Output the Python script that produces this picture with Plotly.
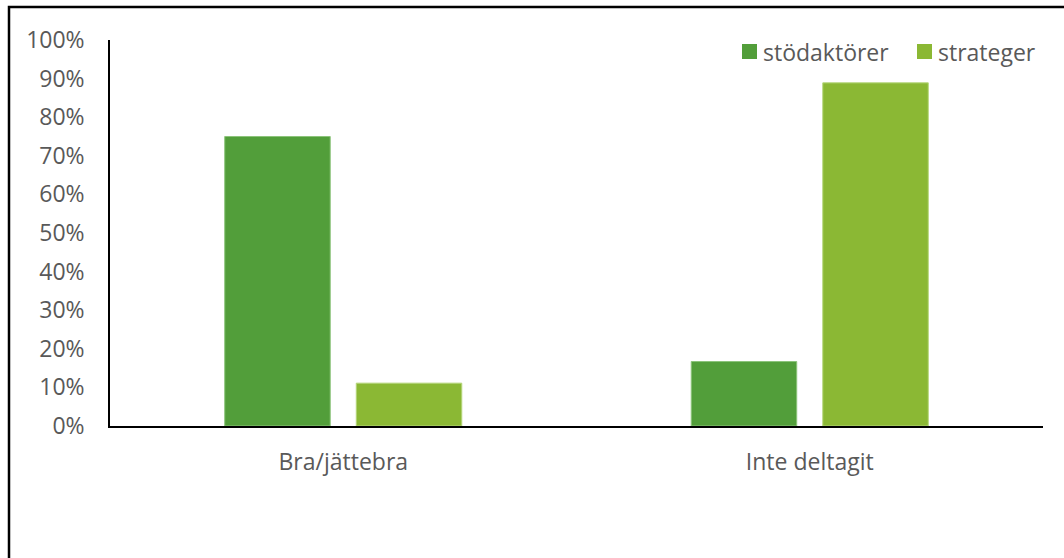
import plotly.graph_objects as go

# Survey answers per group, share of respondents
categories = ["Bra/jättebra", "Inte deltagit"]
series_names = ["stödaktörer", "strateger"]
stodaktorer = [0.75, 0.167]
strateger = [0.111, 0.889]
y_ticks = [0, 0.1, 0.2, 0.3, 0.4, 0.5, 0.6, 0.7, 0.8, 0.9, 1.0]
y_tick_labels = ["0%", "10%", "20%", "30%", "40%", "50%", "60%", "70%", "80%", "90%", "100%"]

FONT = "Open Sans"
SIZE = 23
TEXT_GREY = "#595959"
DARK_GREEN = "#529E3A"
LIGHT_GREEN = "#8BB834"

# Plot area in pixels, used to place the legend keys and the outer frame
PLOT_L, PLOT_R, PLOT_T, PLOT_B = 110, 1043, 40, 426
PW, PH = PLOT_R - PLOT_L, PLOT_B - PLOT_T


def px_x(v):
    return (v - PLOT_L) / PW


def px_y(v):
    return (PLOT_B - v) / PH


fig = go.Figure()
fig.add_trace(go.Bar(
    name=series_names[0], x=categories, y=stodaktorer, showlegend=False,
    marker=dict(color=DARK_GREEN, line=dict(color="#8CC47A", width=1)),
))
fig.add_trace(go.Bar(
    name=series_names[1], x=categories, y=strateger, showlegend=False,
    marker=dict(color=LIGHT_GREEN, line=dict(color="#B5D67A", width=1)),
))

# Legend keys: square swatch followed by the series name
shapes = []
annotations = []
legend_items = [(series_names[0], DARK_GREEN, 742), (series_names[1], LIGHT_GREEN, 917)]
for name, color, left in legend_items:
    shapes.append(dict(
        type="rect", xref="paper", yref="paper",
        x0=px_x(left), x1=px_x(left + 15), y0=px_y(59), y1=px_y(44),
        line=dict(width=0), fillcolor=color,
    ))
    annotations.append(dict(
        xref="paper", yref="paper", x=px_x(left + 19), y=px_y(51.5),
        xanchor="left", yanchor="middle", showarrow=False, text=name,
        font=dict(family=FONT, size=SIZE, color=TEXT_GREY),
    ))

# Chart frame
shapes.append(dict(
    type="rect", xref="paper", yref="paper",
    x0=px_x(9), x1=px_x(1100), y0=px_y(700), y1=px_y(7),
    line=dict(color="black", width=2.5), fillcolor="rgba(0,0,0,0)",
    layer="above",
))

fig.update_layout(
    width=1064, height=558,
    margin=dict(l=PLOT_L, r=1064 - PLOT_R, t=PLOT_T, b=558 - PLOT_B),
    paper_bgcolor="white", plot_bgcolor="white",
    barmode="group", bargap=0.436, bargroupgap=0.198,
    font=dict(family=FONT, size=SIZE, color=TEXT_GREY),
    showlegend=False,
    xaxis=dict(
        showline=True, linecolor="black", linewidth=2,
        ticks="", showgrid=False, zeroline=False,
        tickfont=dict(family=FONT, size=SIZE, color=TEXT_GREY),
        ticklabelstandoff=14,
    ),
    yaxis=dict(
        range=[0, 1], tickvals=y_ticks, ticktext=y_tick_labels,
        showline=True, linecolor="black", linewidth=1.5,
        ticks="", showgrid=False, zeroline=False,
        tickfont=dict(family=FONT, size=SIZE, color=TEXT_GREY),
        ticklabelstandoff=19,
    ),
    shapes=shapes,
    annotations=annotations,
)

fig.write_html("out.html")
